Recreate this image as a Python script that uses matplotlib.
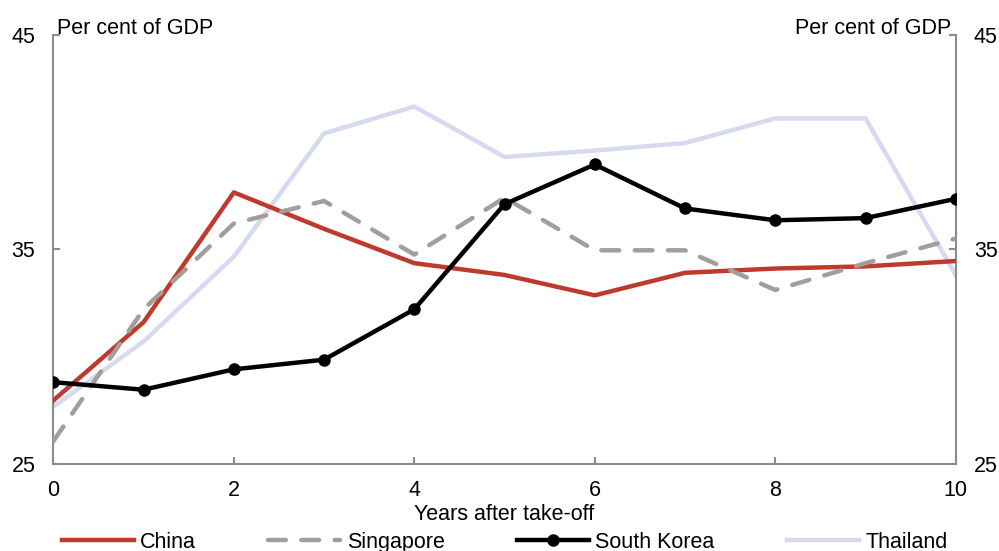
import matplotlib.pyplot as plt

plt.rcParams['font.family'] = ['Liberation Sans', 'DejaVu Sans']

years = [0, 1, 2, 3, 4, 5, 6, 7, 8, 9, 10]
china = [27.95, 31.6, 37.65, 35.95, 34.35, 33.8, 32.85, 33.9, 34.1, 34.2, 34.45]
singapore = [26.05, 32.2, 36.2, 37.25, 34.75, 37.4, 34.95, 34.95, 33.1, 34.35, 35.5]
south_korea = [28.8, 28.45, 29.4, 29.85, 32.2, 37.1, 38.95, 36.9, 36.35, 36.45, 37.35]
thailand = [27.65, 30.7, 34.65, 40.4, 41.65, 39.3, 39.6, 39.95, 41.1, 41.1, 33.8]

fs = 15.5

fig = plt.figure(figsize=(9.99, 5.51), dpi=100)
ax = fig.add_axes([0.0534, 0.1584, 0.9033, 0.7786])

axis_grey = '#8c8c8c'

ax.plot(years, thailand, color='#d5daf0', lw=3.2, label='Thailand', zorder=2)
ax.plot(years, china, color='#be3a2c', lw=3.2, label='China', zorder=3)
ax.plot(years, singapore, color='#a39e9c', lw=3.2, dashes=(4, 3.5),
        dash_capstyle='round', label='Singapore', zorder=3)
ax.plot(years, south_korea, color='black', lw=3.2, marker='o', markersize=8,
        label='South Korea', zorder=4)

ax.set_xlim(0, 10)
ax.set_ylim(25, 45)
ax.set_xticks([0, 2, 4, 6, 8, 10])
ax.set_yticks([25, 35, 45])

for side in ['left', 'right', 'bottom']:
    ax.spines[side].set_color(axis_grey)
    ax.spines[side].set_linewidth(1.5)
ax.spines['top'].set_visible(False)

ax.tick_params(axis='y', direction='in', length=5, width=1.5, color=axis_grey,
               labelsize=fs, pad=13, left=True, right=True, labelright=True)
ax.tick_params(axis='x', direction='in', length=5, width=1.5, color=axis_grey,
               labelsize=fs, pad=12)

ax.set_xlabel('Years after take-off', fontsize=fs, labelpad=2)

ax.text(0.004, 0.99, 'Per cent of GDP', transform=ax.transAxes, fontsize=fs,
        ha='left', va='bottom')
ax.text(0.995, 0.99, 'Per cent of GDP', transform=ax.transAxes, fontsize=fs,
        ha='right', va='bottom')

handles, labels = ax.get_legend_handles_labels()
order = [1, 2, 3, 0]
ax.legend([handles[i] for i in order], [labels[i] for i in order],
          loc='center', bbox_to_anchor=(0.5, -0.183), ncol=4, frameon=False,
          fontsize=fs, handlelength=3.35, columnspacing=3.35, handletextpad=0.3)

fig.savefig('out.png', dpi=100)
